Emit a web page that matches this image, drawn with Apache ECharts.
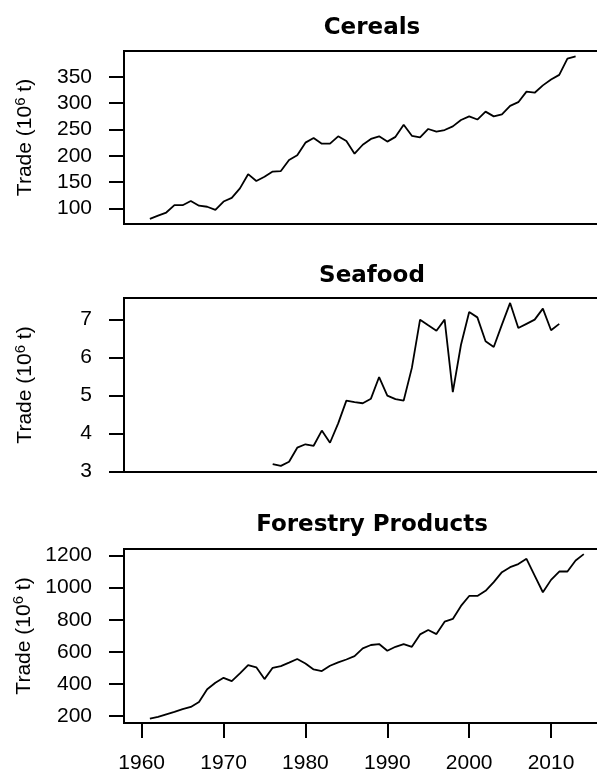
<!DOCTYPE html>
<html>
<head>
<meta charset="utf-8">
<script src="https://cdn.jsdelivr.net/npm/echarts@6/dist/echarts.min.js"></script>
<style>
  html, body { margin: 0; padding: 0; background: #fff; }
  #chart { width: 597px; height: 777px; }
</style>
</head>
<body>
<div id="chart"></div>
<script>
// values
const cerealYears = []
for (let y = 1961; y <= 2013; y++) cerealYears.push(y)
const cerealValues = [80, 86, 92, 106, 106, 114, 105, 103, 97, 113,
  120, 138, 165, 152, 160, 170, 171, 192, 201, 225,
  234, 223, 223, 237, 228, 204, 221, 232, 237, 227,
  236, 259, 238, 235, 251, 246, 249, 256, 268, 275,
  269, 284, 275, 279, 295, 302, 322, 320, 334, 345,
  354, 385, 389]

const seafoodYears = []
for (let y = 1976; y <= 2011; y++) seafoodYears.push(y)
const seafoodValues = [3.20, 3.15, 3.26, 3.63, 3.72, 3.68, 4.08, 3.76, 4.27, 4.87,
  4.83, 4.80, 4.92, 5.49, 5.00, 4.91, 4.87, 5.73, 7.00, 6.85,
  6.71, 7.00, 5.09, 6.34, 7.20, 7.06, 6.43, 6.28, 6.87, 7.44,
  6.78, 6.89, 7.00, 7.29, 6.72, 6.89]

const forestYears = []
for (let y = 1961; y <= 2014; y++) forestYears.push(y)
const forestValues = [185, 196, 212, 227, 244, 258, 289, 368, 408, 439,
  418, 466, 518, 504, 431, 501, 512, 533, 556, 528,
  491, 481, 514, 535, 553, 574, 622, 643, 649, 607,
  632, 649, 632, 709, 736, 711, 788, 805, 886, 948,
  948, 980, 1034, 1096, 1127, 1146, 1179, 1075, 971, 1048,
  1100, 1100, 1169, 1208]

const panelTitles = ['Cereals', 'Seafood', 'Forestry Products']
const yearTicks = [1960, 1970, 1980, 1990, 2000, 2010]
const cerealTicks = [100, 150, 200, 250, 300, 350]
const seafoodTicks = [3, 4, 5, 6, 7]
const forestTicks = [200, 400, 600, 800, 1000, 1200]

const FONT = '"Liberation Sans", Arial, sans-serif'
const TITLE_FONT = '"DejaVu Sans", sans-serif'

const gridTops = [51, 298, 549]
const gridHeights = [173, 174, 174]
const yRanges = [[70.2, 399.4], [2.99, 7.57], [158, 1240]]
const yTickSets = [cerealTicks, seafoodTicks, forestTicks]
const titleTops = [12, 260, 509]

function pairs(xs, ys) {
  return xs.map((x, i) => [x, ys[i]])
}

const seriesData = [
  pairs(cerealYears, cerealValues),
  pairs(seafoodYears, seafoodValues),
  pairs(forestYears, forestValues)
]

const option = {
  animation: false,
  backgroundColor: '#fff',
  title: panelTitles.map((t, i) => ({
    text: t,
    left: 367,
    top: titleTops[i],
    textAlign: 'center',
    textStyle: { fontFamily: TITLE_FONT, fontWeight: 'bold', fontSize: 23, color: '#000' }
  })),
  grid: gridTops.map((top, i) => ({
    left: 124,
    top: top,
    width: 486,
    height: gridHeights[i],
    outerBoundsMode: 'none',
    containLabel: false,
    show: true,
    borderColor: '#000',
    borderWidth: 2,
    backgroundColor: 'transparent'
  })),
  xAxis: [0, 1, 2].map(i => ({
    type: 'value',
    gridIndex: i,
    min: 1957.84,
    max: 2017.2,
    axisLine: { show: false },
    splitLine: { show: false },
    axisTick: {
      show: i === 2,
      length: 15,
      customValues: yearTicks,
      lineStyle: { color: '#000', width: 2 }
    },
    axisLabel: {
      show: i === 2,
      margin: 30,
      customValues: yearTicks,
      formatter: v => String(v),
      fontFamily: FONT,
      fontSize: 21,
      color: '#000'
    }
  })),
  yAxis: [0, 1, 2].map(i => ({
    type: 'value',
    gridIndex: i,
    min: yRanges[i][0],
    max: yRanges[i][1],
    name: 'Trade (10{sup|6} t)',
    nameLocation: 'middle',
    nameGap: 86,
    nameTextStyle: {
      fontFamily: FONT,
      fontSize: 21,
      color: '#000',
      rich: {
        sup: { fontFamily: FONT, fontSize: 15, color: '#000', padding: [0, 0, 10, 0] }
      }
    },
    axisLine: { show: false },
    splitLine: { show: false },
    axisTick: {
      show: true,
      length: 15,
      customValues: yTickSets[i],
      lineStyle: { color: '#000', width: 2 }
    },
    axisLabel: {
      margin: 32,
      customValues: yTickSets[i],
      formatter: v => String(v),
      fontFamily: FONT,
      fontSize: 21,
      color: '#000'
    }
  })),
  series: seriesData.map((d, i) => ({
    type: 'line',
    xAxisIndex: i,
    yAxisIndex: i,
    data: d,
    symbol: 'none',
    lineStyle: { color: '#000', width: 1.8 }
  }))
}

const chart = echarts.init(document.getElementById('chart'))
chart.setOption(option)
</script>
</body>
</html>
